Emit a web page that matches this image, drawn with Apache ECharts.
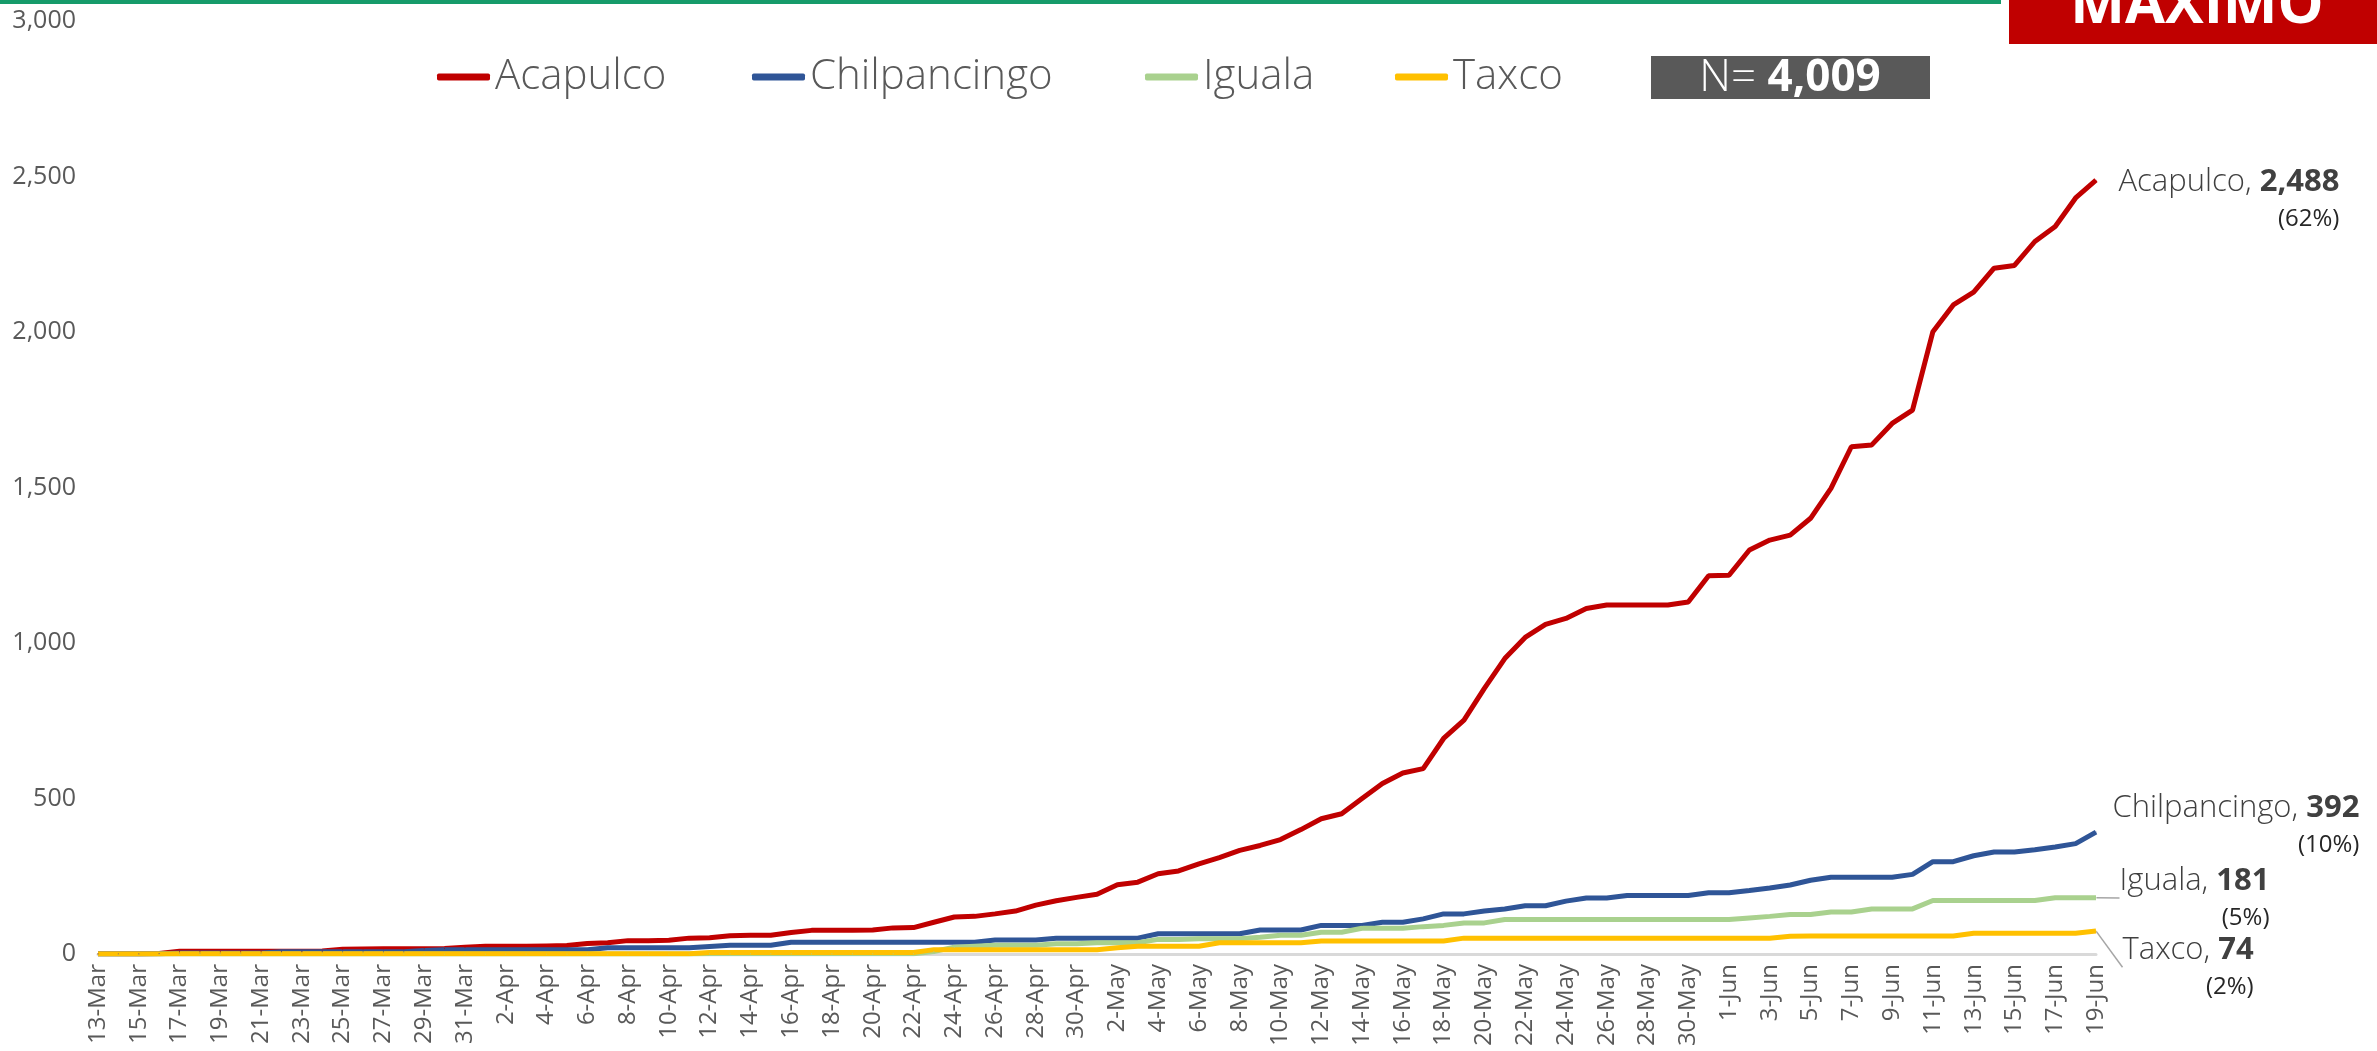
<!DOCTYPE html>
<html>
<head>
<meta charset="utf-8">
<script src="https://cdn.jsdelivr.net/npm/echarts@6/dist/echarts.min.js"></script>
<style>
html, body { margin: 0; padding: 0; background: #fff; }
#chart { width: 2377px; height: 1051px; }
</style>
</head>
<body>
<div id="chart"></div>
<script>
var fechas = [
	'13-Mar','14-Mar','15-Mar','16-Mar','17-Mar','18-Mar','19-Mar','20-Mar','21-Mar','22-Mar',
	'23-Mar','24-Mar','25-Mar','26-Mar','27-Mar','28-Mar','29-Mar','30-Mar','31-Mar','1-Apr',
	'2-Apr','3-Apr','4-Apr','5-Apr','6-Apr','7-Apr','8-Apr','9-Apr','10-Apr','11-Apr',
	'12-Apr','13-Apr','14-Apr','15-Apr','16-Apr','17-Apr','18-Apr','19-Apr','20-Apr','21-Apr',
	'22-Apr','23-Apr','24-Apr','25-Apr','26-Apr','27-Apr','28-Apr','29-Apr','30-Apr','1-May',
	'2-May','3-May','4-May','5-May','6-May','7-May','8-May','9-May','10-May','11-May',
	'12-May','13-May','14-May','15-May','16-May','17-May','18-May','19-May','20-May','21-May',
	'22-May','23-May','24-May','25-May','26-May','27-May','28-May','29-May','30-May','31-May',
	'1-Jun','2-Jun','3-Jun','4-Jun','5-Jun','6-Jun','7-Jun','8-Jun','9-Jun','10-Jun',
	'11-Jun','12-Jun','13-Jun','14-Jun','15-Jun','16-Jun','17-Jun','18-Jun','19-Jun'
];

var acapulco = [
	1, 1, 1, 2, 9, 9, 9, 9, 9, 9,
	9, 10, 15, 16, 17, 17, 17, 18, 22, 25,
	25, 25, 26, 27, 34, 36, 43, 43, 44, 51,
	52, 59, 60, 60, 69, 76, 76, 76, 77, 84,
	85, 102, 119, 121, 129, 138, 157, 171, 182, 192,
	223, 231, 258, 267, 290, 310, 333, 349, 368, 400,
	435, 451, 500, 548, 582, 596, 693, 752, 854, 950,
	1018, 1060, 1079, 1111, 1122, 1122, 1122, 1122, 1132, 1216,
	1218, 1299, 1331, 1347, 1401, 1497, 1631, 1637, 1706, 1749,
	2001, 2087, 2128, 2205, 2214, 2291, 2339, 2431, 2488
];

var chilpancingo = [
	0, 0, 0, 1, 3, 3, 3, 3, 3, 7,
	7, 7, 7, 7, 7, 7, 11, 14, 14, 14,
	14, 14, 14, 14, 14, 20, 20, 20, 20, 20,
	24, 28, 28, 28, 38, 38, 38, 38, 38, 38,
	38, 38, 38, 38, 45, 45, 45, 51, 51, 51,
	51, 51, 65, 65, 65, 65, 65, 77, 77, 77,
	92, 92, 92, 102, 102, 113, 129, 129, 138, 145,
	155, 155, 170, 180, 180, 188, 188, 188, 188, 197,
	197, 204, 212, 222, 237, 247, 247, 247, 247, 256,
	297, 297, 316, 328, 328, 335, 344, 355, 392
];

var iguala = [
	0, 0, 0, 0, 0, 0, 0, 0, 0, 0,
	0, 0, 0, 0, 0, 0, 0, 0, 0, 0,
	0, 0, 0, 0, 0, 0, 0, 0, 0, 0,
	1, 1, 1, 1, 1, 1, 1, 1, 1, 1,
	1, 8, 22, 25, 28, 28, 28, 33, 33, 36,
	36, 36, 47, 47, 49, 49, 49, 54, 60, 60,
	70, 70, 83, 83, 83, 88, 92, 100, 100, 111,
	111, 111, 111, 111, 111, 111, 111, 111, 111, 111,
	111, 116, 121, 127, 127, 135, 135, 145, 145, 145,
	172, 172, 172, 172, 172, 172, 181, 181, 181
];

var taxco = [
	0, 0, 0, 0, 1, 1, 1, 1, 1, 1,
	1, 1, 1, 1, 1, 1, 1, 1, 1, 1,
	1, 1, 1, 1, 1, 1, 1, 1, 1, 1,
	5, 5, 5, 5, 5, 5, 5, 5, 5, 5,
	5, 14, 14, 14, 14, 14, 14, 14, 14, 14,
	20, 25, 25, 25, 25, 36, 36, 36, 36, 36,
	42, 42, 42, 42, 42, 42, 42, 51, 51, 51,
	51, 51, 51, 51, 51, 51, 51, 51, 51, 51,
	51, 51, 51, 57, 58, 58, 58, 58, 58, 58,
	58, 58, 67, 67, 67, 67, 67, 67, 74
];

var total = 4009;

var FONT = '"Open Sans", "Noto Sans", sans-serif';

function miles(v) {
	return Number(v).toLocaleString('en-US');
}

// solo el ultimo punto lleva etiqueta
function conEtiqueta(arr, nombre) {
	var ultimo = arr[arr.length - 1];
	var pct = Math.round(ultimo / total * 100);
	return arr.map(function (v, i) {
		if (i < arr.length - 1) return v;
		return {
			value: v,
			label: {
				show: true,
				formatter: '{n|' + nombre + ', }{v|' + miles(v) + '}\n{p|(' + pct + '%)}'
			}
		};
	});
}

function serie(nombre, color, arr, dx, dy, guia) {
	return {
		name: nombre,
		type: 'line',
		data: conEtiqueta(arr, nombre),
		symbol: 'circle',
		symbolSize: 1,
		showSymbol: true,
		showAllSymbol: true,
		silent: true,
		lineStyle: { color: color, width: 5 },
		itemStyle: { color: color },
		label: {
			show: false,
			position: 'right',
			distance: 18,
			fontFamily: FONT,
			rich: {
				n: { fontSize: 31, fontWeight: 300, color: '#404040', fontFamily: FONT, lineHeight: 37 },
				v: { fontSize: 31, fontWeight: 'bold', color: '#404040', fontFamily: FONT, lineHeight: 37 },
				p: { fontSize: 24, color: '#262626', fontFamily: FONT, lineHeight: 37, align: 'right' }
			}
		},
		labelLayout: { dx: dx, dy: dy },
		labelLine: { show: guia, lineStyle: { color: '#a6a6a6', width: 1.5 } }
	};
}

// una leyenda por serie para respetar las posiciones
function leyenda(nombre, x) {
	return {
		top: 51,
		left: x,
		icon: 'roundRect',
		itemWidth: 53,
		itemHeight: 7,
		textStyle: { fontSize: 42, fontWeight: 300, color: '#595959', fontFamily: FONT },
		data: [nombre]
	};
}

var chart = echarts.init(document.getElementById('chart'));

var option = {
	animation: false,
	backgroundColor: '#fff',
	grid: {
		left: 98,
		right: 281,
		top: 21,
		bottom: 97,
		containLabel: false,
		outerBoundsMode: 'none'
	},
	legend: [
		leyenda('Acapulco', 432),
		leyenda('Chilpancingo', 747),
		leyenda('Iguala', 1140),
		leyenda('Taxco', 1390)
	],
	xAxis: {
		type: 'category',
		data: fechas,
		boundaryGap: false,
		axisLine: { lineStyle: { color: '#d9d9d9', width: 3 } },
		axisTick: { show: false },
		axisLabel: {
			interval: 1,
			rotate: 90,
			margin: 10,
			color: '#595959',
			fontSize: 24,
			fontFamily: FONT
		}
	},
	yAxis: {
		type: 'value',
		min: 0,
		max: 3000,
		interval: 500,
		splitLine: { show: false },
		axisLine: { show: false },
		axisTick: { show: false },
		axisLabel: {
			margin: 22,
			color: '#595959',
			fontSize: 25,
			fontFamily: FONT,
			formatter: function (v) { return miles(v); }
		}
	},
	series: [
		serie('Acapulco', '#c00000', acapulco, 4, 20, false),
		serie('Chilpancingo', '#2f5597', chilpancingo, -2, -5, false),
		serie('Iguala', '#a9d18e', iguala, 5, 2, true),
		serie('Taxco', '#ffc000', taxco, 8, 38, true)
	],
	graphic: [
		{ type: 'rect', shape: { x: 0, y: 0, width: 2001, height: 4 }, style: { fill: '#169b6a' } },
		{ type: 'rect', shape: { x: 2009, y: 0, width: 368, height: 44 }, style: { fill: '#c00000' } },
		{
			type: 'text', x: 2197, y: 6,
			style: { text: 'MAXIMO', fill: '#fff', font: 'bold 58px "Open Sans"', align: 'center', verticalAlign: 'middle' }
		},
		{ type: 'rect', shape: { x: 1651, y: 56, width: 279, height: 43 }, style: { fill: '#595959' } },
		{
			type: 'text', x: 1790, y: 78,
			style: {
				text: '{a|N= }{b|' + miles(total) + '}',
				align: 'center',
				verticalAlign: 'middle',
				rich: {
					a: { fontSize: 44, fontWeight: 300, fill: '#fff', fontFamily: FONT },
					b: { fontSize: 44, fontWeight: 'bold', fill: '#fff', fontFamily: FONT }
				}
			}
		}
	]
};

chart.setOption(option);
</script>
</body>
</html>
